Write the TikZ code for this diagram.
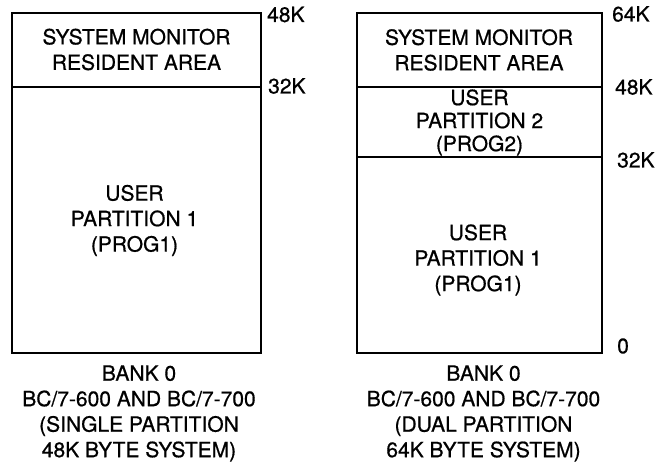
\documentclass[tikz,border=0pt]{standalone}
\usepackage{fontspec}
\setmainfont{TeX Gyre Heros}[FakeBold=0.7]
\begin{document}
\begin{tikzpicture}[x=1pt,y=-1pt,
  box/.style={line width=2.8pt},
  divider/.style={line width=2.1pt},
  lbl/.style={inner sep=0pt,font=\fontsize{21}{25.5}\selectfont},
  addr/.style={lbl,anchor=west},
  txt/.style={lbl,align=center},
  tight/.style={inner sep=0pt,align=center,font=\fontsize{21}{23}\selectfont}]
\useasboundingbox (0,0) rectangle (658,465);
% left bank
\draw[box] (12,13) rectangle (261,353);
\draw[divider] (12,87) -- (261,87);
\node[txt] (lsm) at (136.5,49.5) {SYSTEM MONITOR\\RESIDENT AREA};
\node[txt] (lu1) at (134.5,220.5) {USER\\PARTITION 1\\(PROG1)};
\node[addr] (l48) at (267,14.5) {48K};
\node[addr] (l32) at (268,86) {32K};
\node[txt] (lcap) at (139,413.5) {BANK 0\\BC/7-600 AND BC/7-700\\(SINGLE PARTITION\\48K BYTE SYSTEM)};
% right bank
\draw[box] (357,13) rectangle (602,353);
\draw[divider] (357,87) -- (602,87);
\draw[divider] (357,157) -- (602,157);
\node[txt] (rsm) at (479,50) {SYSTEM MONITOR\\RESIDENT AREA};
\node[tight] (ru2) at (479.5,122.5) {USER\\PARTITION 2\\(PROG2)};
\node[txt] (ru1) at (478,260) {USER\\PARTITION 1\\(PROG1)};
\node[addr] (r64) at (612,14) {64K};
\node[addr] (r48) at (615,87) {48K};
\node[addr] (r32) at (617,160) {32K};
\node[addr] (r0) at (617,346) {0};
\node[txt] (rcap) at (483.5,413.5) {BANK 0\\BC/7-600 AND BC/7-700\\(DUAL PARTITION\\64K BYTE SYSTEM)};
\end{tikzpicture}
\end{document}
